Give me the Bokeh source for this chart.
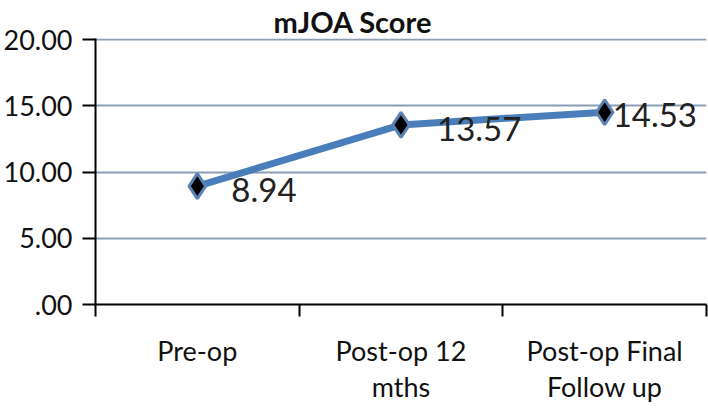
from bokeh.plotting import figure
from bokeh.models import Range1d, FixedTicker, ColumnDataSource
from bokeh.core.properties import value
from bokeh.embed import file_html
from bokeh.resources import INLINE

categories = ["Pre-op", "Post-op 12\nmths", "Post-op Final\nFollow up"]
scores = [8.94, 13.57, 14.53]
score_labels = ["8.94", "13.57", "14.53"]
y_ticks = [0, 5, 10, 15, 20]
y_tick_labels = [".00", "5.00", "10.00", "15.00", "20.00"]
title_text = "mJOA Score"

# positions derived from the category list
x_pos = [i + 0.5 for i in range(len(categories))]
label_dx = [34, 36, 8]
label_dy = [4, 4, 3]

src = ColumnDataSource(dict(x=x_pos, y=scores, t=score_labels, dx=label_dx, dy=label_dy))

FONT = "Lato"
p = figure(width=708, height=409, output_backend="svg", toolbar_location=None,
           x_range=Range1d(0, len(categories)), y_range=Range1d(0, 20.1),
           min_border_left=95, min_border_right=2, min_border_top=38, min_border_bottom=105)
p.outline_line_color = None
p.background_fill_color = "white"
p.border_fill_color = "white"

p.title.text = title_text
p.title.text_font = FONT
p.title.text_font_size = "29px"
p.title.text_font_style = "bold"
p.title.align = "left"
p.title.offset = 178
p.title.standoff = 0
p.title.text_color = "#111111"

p.xgrid.grid_line_color = None
p.ygrid.grid_line_color = "#8A9EB4"
p.ygrid.grid_line_width = 2

# y axis
yax = p.yaxis[0]
yax.ticker = FixedTicker(ticks=y_ticks, minor_ticks=[])
yax.major_label_overrides = {t: l for t, l in zip(y_ticks, y_tick_labels)}
yax.major_label_text_font = FONT
yax.major_label_text_font_size = "27px"
yax.major_label_text_color = "#111111"
yax.major_label_standoff = 10
yax.major_tick_out = 13
yax.major_tick_in = 0
yax.major_tick_line_width = 2
yax.major_tick_line_color = "black"
yax.axis_line_width = 2
yax.axis_line_color = "black"

# x axis: boundaries as minor ticks, labels at centers
xax = p.xaxis[0]
xax.ticker = FixedTicker(ticks=x_pos, minor_ticks=list(range(len(categories) + 1)))
xax.major_label_overrides = {x: c for x, c in zip(x_pos, categories)}
xax.major_label_text_font = FONT
xax.major_label_text_font_size = "27px"
xax.major_label_text_line_height = 1.1
xax.major_label_text_color = "#111111"
xax.major_label_standoff = 17
xax.major_tick_out = 12
xax.major_tick_in = 0
xax.major_tick_line_color = None
xax.minor_tick_out = 12
xax.minor_tick_in = 0
xax.minor_tick_line_width = 2
xax.minor_tick_line_color = "black"
xax.axis_line_width = 2
xax.axis_line_color = "black"

p.line("x", "y", source=src, line_width=7, line_color="#4A7EBB")
p.scatter("x", "y", source=src, marker="diamond", size=25, fill_color="black",
          line_color="#5B82B5", line_width=3)
p.text("x", "y", text="t", source=src, x_offset="dx", y_offset="dy",
       text_font=value(FONT), text_font_size="33px", text_color="#222222",
       text_align="left", text_baseline="middle")

open("out.html", "w").write(file_html(p, INLINE))
